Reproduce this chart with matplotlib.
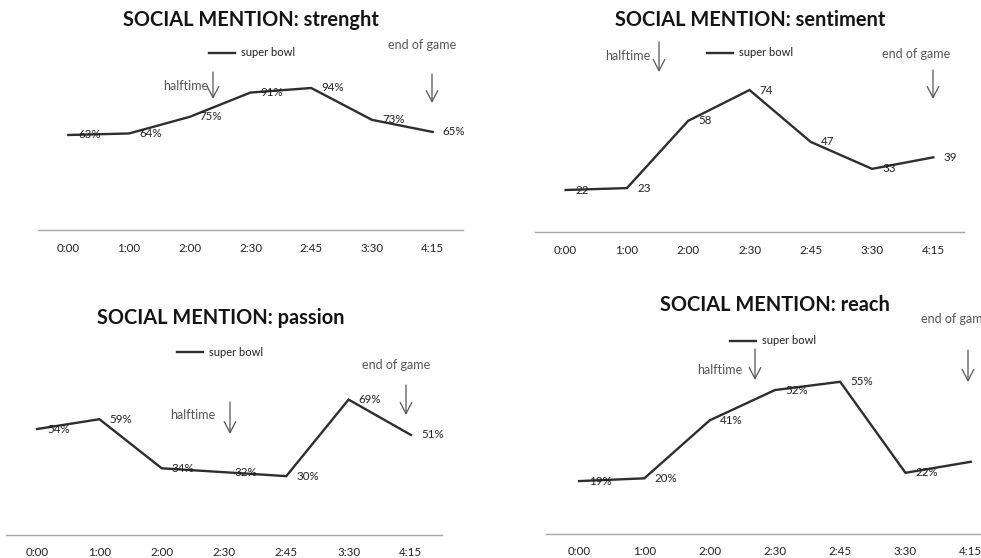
import matplotlib
matplotlib.use("Agg")
import matplotlib.pyplot as plt

# Time checkpoints shared by every panel
times = ["0:00", "1:00", "2:00", "2:30", "2:45", "3:30", "4:15"]

# Social mention metrics during the game
strength = [63, 64, 75, 91, 94, 73, 65]
sentiment = [22, 23, 58, 74, 47, 33, 39]
passion = [54, 59, 34, 32, 30, 69, 51]
reach = [19, 20, 41, 52, 55, 22, 26]

series_name = "super bowl"
titles = ["SOCIAL MENTION: strenght", "SOCIAL MENTION: sentiment",
          "SOCIAL MENTION: passion", "SOCIAL MENTION: reach"]

W, H = 981, 558
plt.rcParams["font.family"] = ["Lato", "DejaVu Sans"]

fig = plt.figure(figsize=(W / 100, H / 100), dpi=100)
fig.patch.set_facecolor("white")

LINE = "#2e2e2e"
TEXT = "#1f1f1f"
NOTE = "#555555"


def fpt(x, y):
    """Pixel position (from top-left) to figure fraction."""
    return (x / W, 1 - y / H)


def panel(values, title, box, ymax, fmt, title_xy, legend_xy,
          half_text, half_arrow, end_text, end_arrow):
    left, right, top, bottom = box
    ax = fig.add_axes([left / W, 1 - bottom / H, (right - left) / W, (bottom - top) / H])
    x = list(range(len(times)))
    ax.plot(x, values, color=LINE, lw=1.7, solid_joinstyle="miter", label=series_name,
            clip_on=False)
    ax.set_xlim(-0.5, len(times) - 0.5)
    ax.set_ylim(0, ymax)
    ax.set_xticks(x)
    ax.set_xticklabels(times, fontsize=8.3, color=TEXT)
    ax.tick_params(axis="x", length=0, pad=9)
    ax.set_yticks([])
    for s in ("top", "left", "right"):
        ax.spines[s].set_visible(False)
    ax.spines["bottom"].set_color("#a6a6a6")
    ax.spines["bottom"].set_linewidth(1.0)
    ax.patch.set_alpha(0)

    for xi, v in zip(x, values):
        ax.annotate(fmt.format(v), (xi, v), xytext=(10, 0), textcoords="offset pixels",
                    ha="left", va="center", fontsize=8.3, color=TEXT,
                    annotation_clip=False)

    fig.text(*fpt(*title_xy), title, ha="center", va="center", fontsize=14.4,
             fontweight="bold", color="#141414")

    leg = ax.legend(loc="center left", bbox_to_anchor=fpt(*legend_xy),
                    bbox_transform=fig.transFigure, frameon=False, fontsize=8,
                    handlelength=2.3, handletextpad=0.6, borderpad=0, borderaxespad=0)
    for t in leg.get_texts():
        t.set_color(TEXT)

    fig.text(*fpt(*half_text), "halftime", ha="left", va="center", fontsize=9, color=NOTE)
    fig.text(*fpt(*end_text), "end of game", ha="left", va="center", fontsize=9, color=NOTE)
    for (ax_x, y0, y1) in (half_arrow, end_arrow):
        fig.add_artist(matplotlib.patches.FancyArrowPatch(
            fpt(ax_x, y0), fpt(ax_x, y1), transform=fig.transFigure,
            arrowstyle="->,head_length=5,head_width=2.6", color=NOTE, lw=0.9,
            shrinkA=0, shrinkB=0, mutation_scale=1.6))
    return ax


panel(strength, titles[0], (38, 463, 78.9, 230.5), 100, "{}%",
      title_xy=(251, 20), legend_xy=(209, 53),
      half_text=(163, 86), half_arrow=(213, 72, 99),
      end_text=(388, 45), end_arrow=(432, 74, 103))

panel(sentiment, titles[1], (535, 964, 78.5, 232.3), 80, "{}",
      title_xy=(750, 20), legend_xy=(707, 53),
      half_text=(605, 56), half_arrow=(659, 42, 72),
      end_text=(882, 54), end_arrow=(933, 70, 99))

panel(passion, titles[2], (6, 442, 378, 535), 80, "{}%",
      title_xy=(221, 318), legend_xy=(177, 352),
      half_text=(170, 415), half_arrow=(230, 402, 434),
      end_text=(362, 365), end_arrow=(406, 385, 415))

panel(reach, titles[3], (546.4, 1003.4, 368, 533.5), 60, "{}%",
      title_xy=(775, 305), legend_xy=(730, 341),
      half_text=(697, 370), half_arrow=(755, 349, 380),
      end_text=(921, 319), end_arrow=(968, 350, 382))

fig.savefig("out.png", dpi=100, facecolor="white")
